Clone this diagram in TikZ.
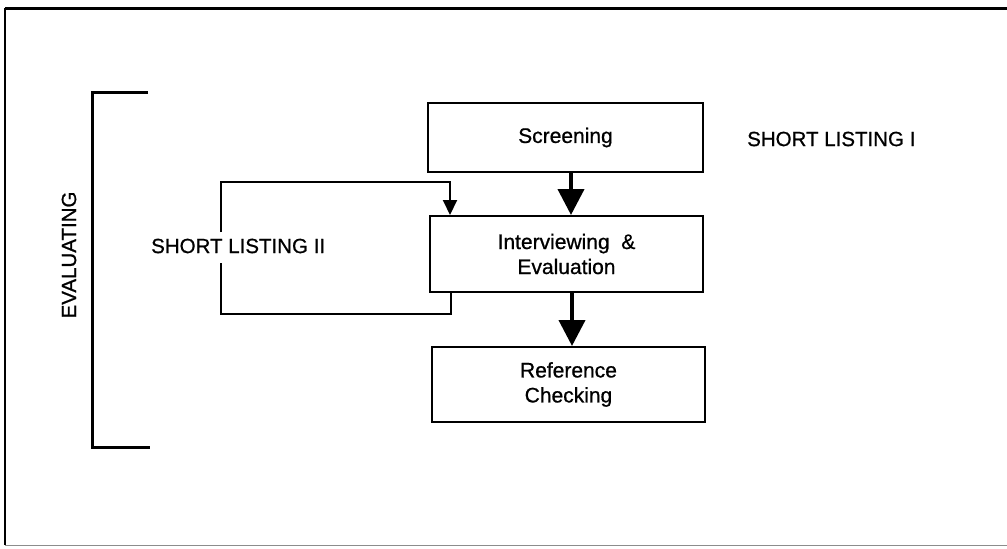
\documentclass[tikz,border=0pt]{standalone}
\usepackage{fontspec}
\setmainfont{Liberation Sans}[FakeBold=0.8]
\usetikzlibrary{arrows.meta}
\begin{document}
\begin{tikzpicture}[x=1pt,y=-1pt,
  box/.style={draw,line width=2pt,inner sep=0pt,font=\fontsize{21}{25}\selectfont,align=center},
  lbl/.style={font=\fontsize{20.5}{25}\selectfont,inner sep=1pt},
  bigarrow/.style={line width=4pt,-{Triangle[width=26pt,length=26pt]}},
  smallarrow/.style={line width=2pt,-{Triangle[width=14pt,length=15pt]}}]
\useasboundingbox (0,0) rectangle (1007,549);
% frame
\draw[line width=3pt] (5,8) -- (1007,8);
\draw[line width=2pt] (5,8) -- (5,545);
\draw[line width=1pt,black!45] (5,545) -- (1007,545);
% bracket
\draw[line width=3pt] (148,92) -- (92,92) -- (92,447) -- (150,447);
\node[lbl,rotate=90] (eval) at (69,255) {EVALUATING};
% boxes
\node[box,minimum width=275pt,minimum height=69pt] (scr) at (565.5,137.5) {Screening};
\node[box,minimum width=273pt,minimum height=76pt] (int) at (566.5,254) {Interviewing \ \&\\Evaluation};
\node[box,minimum width=273pt,minimum height=75pt] (ref) at (568.5,384.5) {Reference\\Checking};
% arrows
\draw[bigarrow] (scr.south -| 571,0) -- (int.north -| 571,0);
\draw[bigarrow] (int.south -| 572,0) -- (ref.north -| 572,0);
% loop
\coordinate (lb) at ([xshift=22pt]int.south west);
\coordinate (lt) at ([xshift=21pt]int.north west);
\coordinate (gb) at (221,263);
\coordinate (gt) at (221,232);
\draw[line width=2pt] (lb) -- ++(0,21) -| (gb);
\draw[line width=2pt] (gt) |- (lt |- 0,182);
\draw[smallarrow] (lt |- 0,181) -- (lt);
\node[lbl,anchor=west] (sl2) at (150,246) {SHORT LISTING II};
\node[lbl,anchor=west] (sl1) at (746,139) {SHORT LISTING I};
\end{tikzpicture}
\end{document}
